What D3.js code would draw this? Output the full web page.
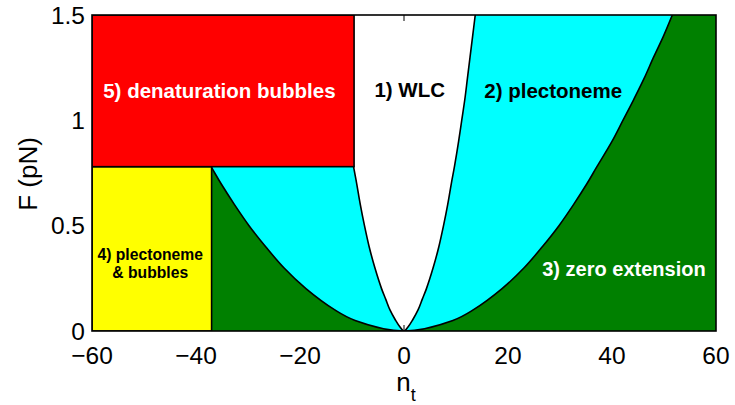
<!DOCTYPE html>
<html><head><meta charset="utf-8">
<script src="https://cdn.jsdelivr.net/npm/d3@7"></script>
<style>
html,body{margin:0;padding:0;background:#fff;}
svg{display:block;font-family:"Liberation Sans",Arial,Helvetica,sans-serif;}
</style></head>
<body>
<svg id="chart" width="735" height="405"></svg>
<script>
// ---- data ----
const xTicks = [-60, -40, -20, 0, 20, 40, 60];
const yTicks = [0, 0.5, 1, 1.5];
const yTickLabels = ["0", "0.5", "1", "1.5"];
// WLC / plectoneme-coexistence boundary (|n_t| vs F)
const wlcF = [0, 0.02, 0.05, 0.1, 0.15, 0.2, 0.3, 0.4, 0.5, 0.6, 0.7, 0.78, 0.9, 1.0, 1.1, 1.2, 1.3, 1.4, 1.5];
const wlcN = [0, 0.8, 1.6, 2.7, 3.5, 4.3, 5.6, 6.7, 7.6, 8.4, 9.1, 9.7, 10.5, 11.1, 11.7, 12.2, 12.7, 13.2, 13.7];
// plectoneme / zero-extension boundary
const plcF = [0, 0.05, 0.1, 0.2, 0.3, 0.4, 0.5, 0.6, 0.7, 0.78, 0.9, 1.0, 1.1, 1.2, 1.3, 1.4, 1.5];
const plcN = [0, 9.4, 13.3, 18.8, 23.1, 26.6, 29.8, 32.6, 35.2, 37.1, 40.0, 42.1, 44.2, 46.2, 48.0, 49.9, 51.6];
// rectangular regions (denaturation)
const bubbleF = 0.78;
const yellowRightN = -37.0;
const redRightN = -9.6;
const regionLabels = [
  {lines: ["5) denaturation bubbles"], n: -35.5, F: 1.105, color: "#fff", size: 20.5},
  {lines: ["1) WLC"], n: 1.1, F: 1.11, color: "#000", size: 20.5},
  {lines: ["2) plectoneme"], n: 28.7, F: 1.105, color: "#000", size: 20.5},
  {lines: ["3) zero extension"], n: 42.3, F: 0.26, color: "#fff", size: 20},
  {lines: ["4) plectoneme", "& bubbles"], n: -48.8, F: 0.338, color: "#000", size: 15.7}
];

// ---- layout ----
const svg = d3.select("#chart");
const L = 92, R = 716, T = 15, B = 331;
const xs = d3.scaleLinear().domain([-60, 60]).range([L, R]);
const ys = d3.scaleLinear().domain([0, 1.5]).range([B, T]);

svg.append("clipPath").attr("id", "plotclip")
  .append("rect").attr("x", L).attr("y", T).attr("width", R - L).attr("height", B - T);

const plot = svg.append("g").attr("clip-path", "url(#plotclip)");

function uShape(F, N) {
  const pts = [];
  for (let i = F.length - 1; i >= 0; i--) pts.push([-N[i], F[i]]);
  for (let i = 1; i < F.length; i++) pts.push([N[i], F[i]]);
  return pts;
}
const lineC = d3.line().x(d => xs(d[0])).y(d => ys(d[1])).curve(d3.curveCatmullRom.alpha(0.5));

// zero-extension (green) background
plot.append("rect").attr("x", xs(-60)).attr("y", ys(1.5)).attr("width", xs(60) - xs(-60)).attr("height", ys(0) - ys(1.5)).attr("fill", "#008000");
// plectoneme (cyan) region
const plcPts = uShape(plcF, plcN);
plot.append("path").attr("d", lineC(plcPts) + "Z").attr("fill", "#00ffff");
// WLC (white) region
const wlcPts = uShape(wlcF, wlcN);
plot.append("path").attr("d", lineC(wlcPts) + "Z").attr("fill", "#ffffff");
// inner ticks: only visible in the unpatched (white) area
xTicks.filter(t => t === 0).forEach(t => {
  plot.append("line").attr("x1", xs(t)).attr("x2", xs(t)).attr("y1", B).attr("y2", B - 6).attr("stroke", "#000").attr("stroke-width", 1);
  plot.append("line").attr("x1", xs(t)).attr("x2", xs(t)).attr("y1", T).attr("y2", T + 6).attr("stroke", "#000").attr("stroke-width", 1);
});
// boundary curves
plot.append("path").attr("d", lineC(plcPts)).attr("fill", "none").attr("stroke", "#000").attr("stroke-width", 1.6);
plot.append("path").attr("d", lineC(wlcPts)).attr("fill", "none").attr("stroke", "#000").attr("stroke-width", 1.6);
// denaturation rectangles
plot.append("rect").attr("x", xs(-60)).attr("y", ys(bubbleF)).attr("width", xs(yellowRightN) - xs(-60)).attr("height", ys(0) - ys(bubbleF))
  .attr("fill", "#ffff00").attr("stroke", "#000").attr("stroke-width", 1.6);
plot.append("rect").attr("x", xs(-60)).attr("y", ys(1.5)).attr("width", xs(redRightN) - xs(-60)).attr("height", ys(bubbleF) - ys(1.5))
  .attr("fill", "#ff0000").attr("stroke", "#000").attr("stroke-width", 1.6);

// frame
svg.append("rect").attr("x", L).attr("y", T).attr("width", R - L).attr("height", B - T).attr("fill", "none").attr("stroke", "#000").attr("stroke-width", 1.6);

// region labels
regionLabels.forEach(lb => {
  const t = svg.append("text").attr("text-anchor", "middle").attr("font-weight", "bold")
    .attr("font-size", lb.size + "px").attr("fill", lb.color);
  lb.lines.forEach((s, i) => {
    t.append("tspan").attr("x", xs(lb.n)).attr("y", ys(lb.F) + i * lb.size * 1.16).text(s);
  });
});

// tick labels
const fmtX = d => (d < 0 ? "\u2212" + Math.abs(d) : String(d));
xTicks.forEach(t => {
  svg.append("text").attr("x", xs(t)).attr("y", 364).attr("text-anchor", "middle").attr("font-size", "24.5px").attr("fill", "#000").text(fmtX(t));
});
yTicks.forEach((t, i) => {
  svg.append("text").attr("x", 85).attr("y", ys(t) + 8.5).attr("text-anchor", "end").attr("font-size", "24.5px").attr("fill", "#000").text(yTickLabels[i]);
});

// axis titles
svg.append("text").attr("transform", "translate(37,174) rotate(-90)").attr("text-anchor", "middle").attr("font-size", "26px").attr("fill", "#000").text("F (pN)");
const xt = svg.append("text").attr("x", 406).attr("y", 391).attr("text-anchor", "middle").attr("font-size", "26px").attr("fill", "#000");
xt.append("tspan").text("n");
xt.append("tspan").attr("font-size", "18px").attr("dy", 10).text("t");
</script>
</body></html>
